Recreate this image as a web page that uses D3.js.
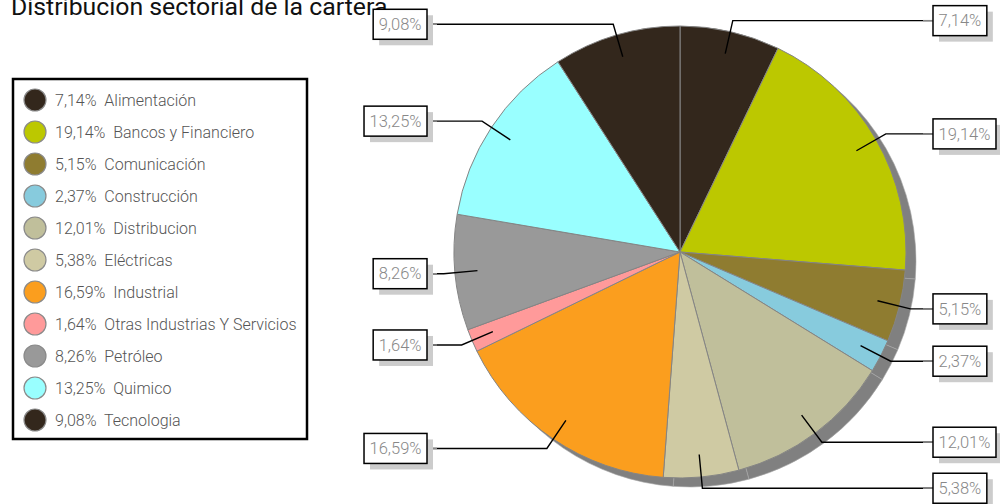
<!DOCTYPE html>
<html>
<head>
<meta charset="utf-8">
<script src="https://cdn.jsdelivr.net/npm/d3@7"></script>
<style>
  body { margin: 0; background: #fff; }
  svg { display: block; font-family: "Roboto", sans-serif; }
</style>
</head>
<body>
<svg id="chart"></svg>
<script>
// sectors, clockwise from 12 o'clock
const categories = ["Alimentación", "Bancos y Financiero", "Comunicación", "Construcción",
    "Distribucion", "Eléctricas", "Industrial", "Otras Industrias Y Servicios",
    "Petróleo", "Quimico", "Tecnologia"];
const values = [7.14, 19.14, 5.15, 2.37, 12.01, 5.38, 16.59, 1.64, 8.26, 13.25, 9.08];
const colors = ["#33271c", "#bcc800", "#8f7c30", "#87cbdd", "#c0bf9b", "#cfcaa3",
    "#fb9e1e", "#ff9a9a", "#999999", "#99ffff", "#33271c"];

const width = 1000, height = 504;
const cx = 680, cy = 252, R = 226;

const locale = d3.formatLocale({ decimal: ",", thousands: ".", grouping: [3], currency: ["", "€"] });
const fmt = v => locale.format(".2f")(v) + "%";

const svg = d3.select("#chart")
    .attr("width", width)
    .attr("height", height);

// title (sits partly above the top edge)
svg.append("text")
    .attr("x", 11)
    .attr("y", 15)
    .attr("font-size", 24.8)
    .attr("fill", "#111")
    .text("Distribucion sectorial de la cartera");

// legend
const legend = svg.append("g");
legend.append("rect")
    .attr("x", 13).attr("y", 79)
    .attr("width", 294).attr("height", 360)
    .attr("fill", "#fff")
    .attr("stroke", "#000")
    .attr("stroke-width", 2.5);

const rows = legend.selectAll(".row")
    .data(categories)
    .join("g")
    .attr("class", "row")
    .attr("transform", (d, i) => `translate(35,${100 + i * 32})`);

rows.append("circle")
    .attr("r", 11)
    .attr("fill", (d, i) => colors[i])
    .attr("stroke", "#8a8a8a")
    .attr("stroke-width", 1.2);

rows.append("text")
    .attr("x", 20)
    .attr("dy", "0.35em")
    .attr("font-size", 16)
    .attr("font-weight", 300)
    .attr("fill", "#555")
    .attr("xml:space", "preserve")
    .text((d, i) => `${fmt(values[i])}  ${d}`);

// pie
const pie = d3.pie().sort(null).value(d => d);
const arcs = pie(values);
const arc = d3.arc().innerRadius(0).outerRadius(R);

// shadow
svg.append("g")
    .attr("transform", `translate(${cx + 10},${cy + 9})`)
    .selectAll("path")
    .data(arcs)
    .join("path")
    .attr("d", arc)
    .attr("fill", "#808080")
    .attr("stroke", "#a8a8a8")
    .attr("stroke-width", 0.6);

svg.append("g")
    .attr("transform", `translate(${cx},${cy})`)
    .selectAll("path")
    .data(arcs)
    .join("path")
    .attr("d", arc)
    .attr("fill", (d, i) => colors[i])
    .attr("stroke", "#858585")
    .attr("stroke-width", 1);

// callouts
const innerArc = d3.arc().innerRadius(R * 0.9).outerRadius(R * 0.9);
const elbowArc = d3.arc().innerRadius(R * 1.05).outerRadius(R * 1.05);
const rightEdge = 933, leftEdge = 427;

const callouts = svg.append("g");

arcs.forEach((a, i) => {
    const p0 = innerArc.centroid(a);
    const p1 = elbowArc.centroid(a);
    const right = (a.startAngle + a.endAngle) / 2 < Math.PI;
    const x0 = cx + p0[0], y0 = cy + p0[1];
    const x1 = cx + p1[0], y1 = cy + p1[1];
    const bx = right ? rightEdge : leftEdge;

    callouts.append("polyline")
        .attr("points", `${x0},${y0} ${x1},${y1} ${bx},${y1}`)
        .attr("fill", "none")
        .attr("stroke", "#000")
        .attr("stroke-width", 1.4);
    callouts.append("line")
        .attr("x1", right ? bx - 10 : bx + 10).attr("x2", bx)
        .attr("y1", y1).attr("y2", y1)
        .attr("stroke", "#888")
        .attr("stroke-width", 1.4);

    const g = callouts.append("g");
    const t = g.append("text")
        .attr("y", y1)
        .attr("dy", "0.35em")
        .attr("font-size", 16.5)
        .attr("font-weight", 300)
        .attr("fill", "#888")
        .text(fmt(values[i]));
    const tw = t.node().getComputedTextLength();
    const bw = tw + 11, bh = 30;
    const left = right ? bx : bx - bw;
    t.attr("x", left + 5.5);
    g.insert("rect", "text")
        .attr("x", left + 6).attr("y", y1 - bh / 2 + 6)
        .attr("width", bw).attr("height", bh)
        .attr("fill", "#cccccc");
    g.insert("rect", "text")
        .attr("x", left).attr("y", y1 - bh / 2)
        .attr("width", bw).attr("height", bh)
        .attr("fill", "#fff")
        .attr("stroke", "#000")
        .attr("stroke-width", 1.5);
});
</script>
</body>
</html>
